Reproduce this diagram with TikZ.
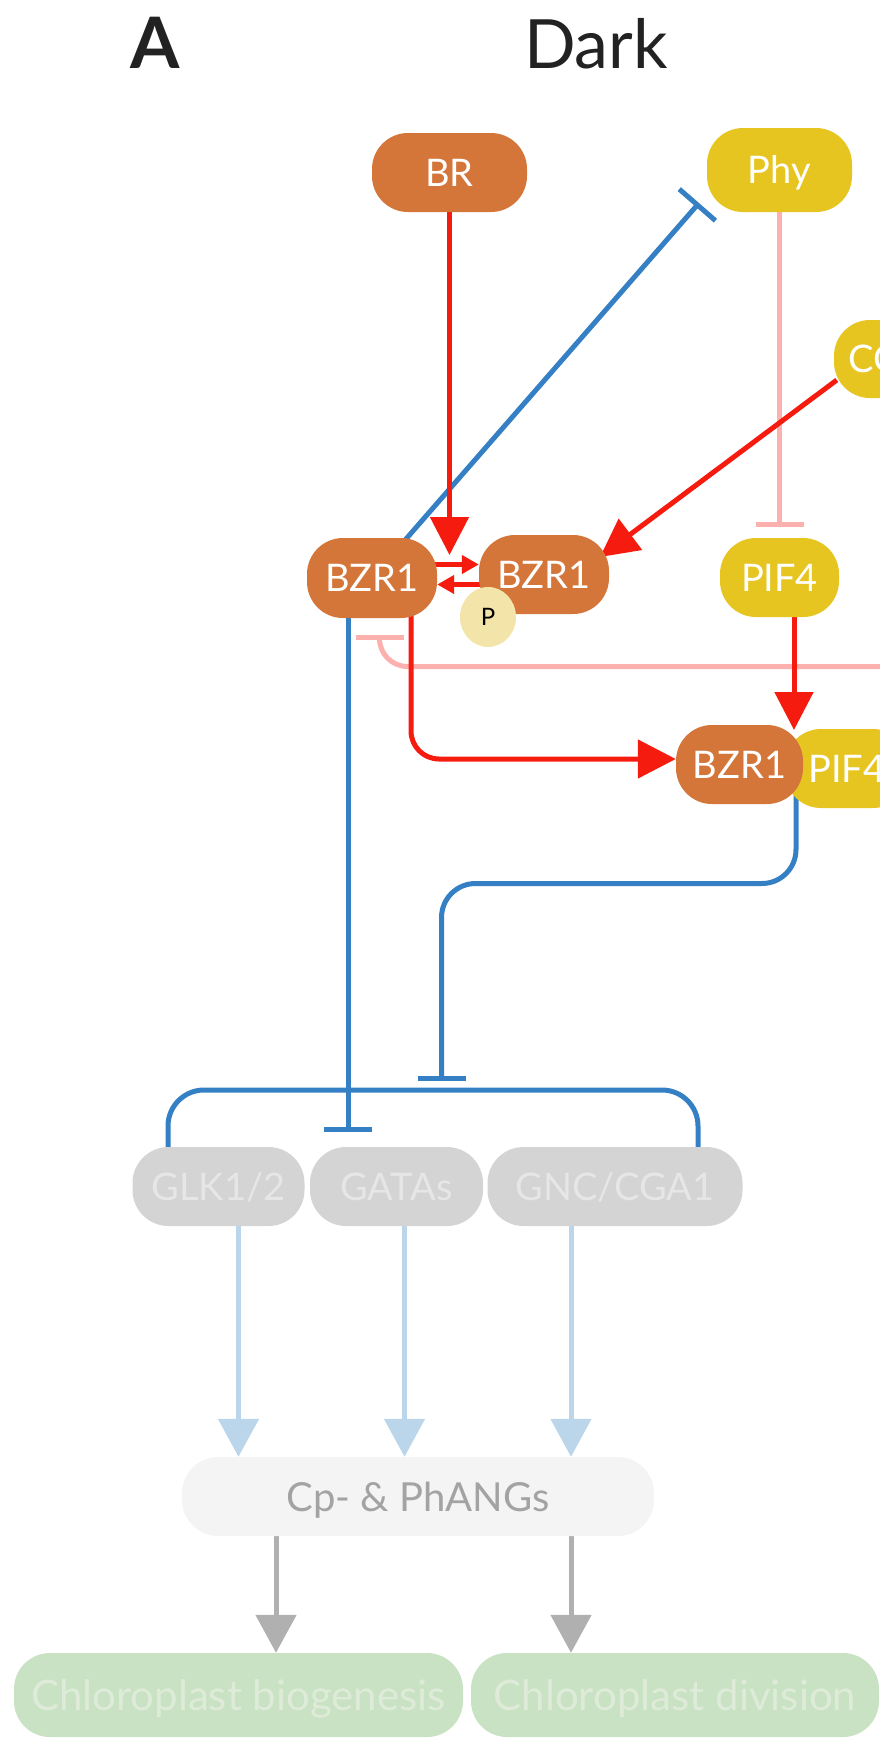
\documentclass[tikz,border=0pt]{standalone}
\usepackage{fontspec}
\setmainfont{Lato}
\usetikzlibrary{arrows.meta,shapes.geometric,calc}

\definecolor{brorange}{HTML}{D4763A}
\definecolor{phyyellow}{HTML}{E7C520}
\definecolor{actred}{HTML}{F61B0F}
\definecolor{inhblue}{HTML}{3580C4}
\definecolor{inhpink}{HTML}{FDB1AE}
\definecolor{paleblue}{HTML}{BBD6EB}
\definecolor{arrowgray}{HTML}{B0B0B0}
\definecolor{pfill}{HTML}{F3E4AA}
\definecolor{genefill}{HTML}{D4D4D4}
\definecolor{genetext}{HTML}{E6E6E6}
\definecolor{cpfill}{HTML}{F4F4F4}
\definecolor{cptext}{HTML}{A3A3A3}
\definecolor{chlfill}{HTML}{C9E2C3}
\definecolor{chltext}{HTML}{DDEBD8}
\definecolor{titlegray}{HTML}{222222}

\pgfdeclarelayer{links}
\pgfsetlayers{links,main}

\begin{document}
\begin{tikzpicture}[x=1pt,y=-1pt,
  box/.style={rounded corners=36pt, inner sep=0pt, text=white,
    font=\fontsize{38}{46}\selectfont, text height=27.5pt, text depth=0pt,
    align=center},
  orangebox/.style={box, fill=brorange},
  yellowbox/.style={box, fill=phyyellow},
  genebox/.style={box, fill=genefill, text=genetext, minimum height=79pt},
  act/.style={draw=actred, line width=5pt, -{Triangle[length=38pt,width=38pt]}},
  actsmall/.style={draw=actred, line width=5pt, -{Triangle[length=17pt,width=18pt]}},
  inh/.style={draw=inhblue, line width=5pt, -{Bar[width=48pt]}},
  inhline/.style={draw=inhblue, line width=5pt},
  pinkinh/.style={draw=inhpink, line width=5pt, -{Bar[width=48pt]}},
  paleact/.style={draw=paleblue, line width=5pt, -{Triangle[length=38pt,width=40pt]}},
  grayact/.style={draw=arrowgray, line width=5pt, -{Triangle[length=38pt,width=40pt]}},
]
\useasboundingbox (0,0) rectangle (880,1738);
\clip (0,0) rectangle (880,1738);

% headings
\node[font=\fontsize{71}{80}\selectfont\bfseries, text=titlegray, anchor=base, inner sep=0pt] (lblA) at (155.5,68) {A};
\node[font=\fontsize{68}{78}\selectfont, text=titlegray, anchor=base, inner sep=0pt] (lblDark) at (596,68) {Dark};

% signals and regulators
\node[orangebox, minimum width=155pt, minimum height=79pt] (BR) at (449.5,172.5) {BR};
\node[yellowbox, minimum width=145pt, minimum height=84pt] (Phy) at (779.5,170) {Phy};
\node[yellowbox, minimum width=129pt, minimum height=78pt] (COP1) at (898.5,359) {COP1};
\node[yellowbox, minimum width=119pt, minimum height=79pt] (PIF4) at (779.5,577.5) {PIF4};

\node[orangebox, minimum width=130pt, minimum height=80pt] (bzrL) at (372,578) {BZR1};
\node[orangebox, minimum width=130pt, minimum height=79pt] (bzrM) at (544,574.5) {BZR1};
\node[ellipse, fill=pfill, minimum width=56pt, minimum height=60pt, inner sep=0pt,
  font=\fontsize{24}{28}\selectfont, text=black] (P) at (488,617) {P};

% BZR1-PIF4 complex
\node[yellowbox, minimum width=124pt, minimum height=79pt] (pifC) at (847,768.5) {PIF4};
\node[orangebox, minimum width=127pt, minimum height=79pt] (bzrC) at (739.5,764.5) {BZR1};

% target genes
\node[genebox, minimum width=172pt] (GLK) at (218.5,1186.5) {GLK1/2};
\node[genebox, minimum width=173pt] (GATA) at (396.5,1186.5) {GATAs};
\node[genebox, minimum width=255pt] (GNC) at (615,1186.5) {GNC/CGA1};

\node[box, fill=cpfill, text=cptext, minimum width=472pt, minimum height=79pt,
  font=\fontsize{40}{48}\selectfont, text height=29pt] (Cp) at (418,1496.5) {Cp- \& PhANGs};

\node[box, fill=chlfill, text=chltext, minimum width=449pt, minimum height=84pt,
  font=\fontsize{42}{50}\selectfont, text height=30pt] (biog) at (238.5,1695) {Chloroplast biogenesis};
\node[box, fill=chlfill, text=chltext, minimum width=408pt, minimum height=84pt,
  font=\fontsize{42}{50}\selectfont, text height=30pt] (divi) at (675,1695) {Chloroplast division};

% free ends of connectors
\coordinate (pinkin) at (920,666.5);
\coordinate (pinkbar) at (379.5,634.5);
\coordinate (phybar) at (699,203);
\coordinate (brtip) at (449.5,555);
\coordinate (coptip) at (600,557);
\coordinate (pifctip) at (794,730);
\coordinate (turn) at (441.5,883.5);
\coordinate (cbar) at (441.5,1081);
\coordinate (gatabar) at (348,1132);
\coordinate (brk) at (441.5,1090);

\begin{pgfonlayer}{links}
  % COP1 branch repressing BZR1
  \draw[pinkinh, rounded corners=28pt] (pinkin) -| (pinkbar);
  % phytochrome repressing PIF4
  \draw[pinkinh] (Phy.center) -- ([yshift=11pt]PIF4.north);
  % BZR1 repressing phytochrome
  \draw[inh] (bzrL.center) -- (phybar);
  % BR signal
  \draw[act] (BR.center) -- (brtip);
  % COP1 to phosphorylated BZR1
  \draw[act] ([shift={(3pt,-21pt)}]COP1.west) -- (coptip);
  % phosphorylation / dephosphorylation
  \draw[actsmall] ([yshift=13.5pt]bzrL.center) -- ([yshift=13.5pt]bzrL.east -| bzrM.west);
  \draw[actsmall] ([yshift=-10pt]bzrM.center) -- ([yshift=-10pt]bzrM.west -| bzrL.east);
  % complex formation
  \draw[act, rounded corners=28pt] ([xshift=39pt]bzrL.center) |- ([yshift=5.5pt]bzrC.west);
  \draw[act] ([xshift=14.5pt]PIF4.center) -- (pifctip);
  % repression of the GATA factors
  \draw[inh, rounded corners=34pt] ([xshift=-51pt]pifC.center) |- (turn) -- (cbar);
  \draw[inh] ([xshift=-24pt]bzrL.center) -- (gatabar);
  \draw[inhline, rounded corners=36pt] ([xshift=-50.5pt]GLK.center) |- (brk) -| ([xshift=83pt]GNC.center);
  % genes to plastid-associated nuclear genes
  \draw[paleact] ([xshift=20pt]GLK.center) -- ([xshift=20pt]GLK.center |- Cp.north);
  \draw[paleact] ([xshift=8pt]GATA.center) -- ([xshift=8pt]GATA.center |- Cp.north);
  \draw[paleact] ([xshift=-44pt]GNC.center) -- ([xshift=-44pt]GNC.center |- Cp.north);
  % outcomes
  \draw[grayact] ([xshift=-142pt]Cp.center) -- ([xshift=-142pt]Cp.center |- biog.north);
  \draw[grayact] ([xshift=153pt]Cp.center) -- ([xshift=153pt]Cp.center |- divi.north);
\end{pgfonlayer}
\end{tikzpicture}
\end{document}
